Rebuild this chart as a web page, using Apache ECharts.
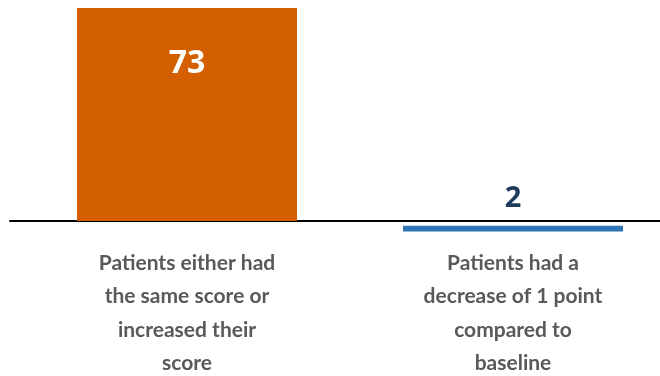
<!DOCTYPE html>
<html>
<head>
<meta charset="utf-8">
<script src="https://cdn.jsdelivr.net/npm/echarts@6/dist/echarts.min.js"></script>
<style>html,body{margin:0;padding:0;background:#fff}#c{width:660px;height:376px}</style>
</head>
<body>
<div id="c"></div>
<script>
const categories = [
  "Patients either had\nthe same score or\nincreased their\nscore",
  "Patients had a\ndecrease of 1 point\ncompared to\nbaseline"
];
const counts = [73, 2];
const belowAxis = [false, true];
const barColors = ["#D35F00", "#2E75B6"];

const chart = echarts.init(document.getElementById('c'), null, {renderer: 'canvas'});
const gapUnits = 1.6;
const offsetData = counts.map((v, i) => belowAxis[i] ? -gapUnits : 0);
const valueData = counts.map((v, i) => ({
  value: belowAxis[i] ? -v : v,
  itemStyle: {color: barColors[i]},
  label: belowAxis[i]
    ? {position: 'top', distance: 12, color: '#1F3B5C', fontSize: 29}
    : {position: 'insideTop', distance: 40, color: '#FFFFFF', fontSize: 32}
}));

chart.setOption({
  animation: false,
  grid: [
    {left: 24, width: 652, top: 8, height: 227.6, outerBoundsMode: 'none', containLabel: false},
    {left: 10, width: 650, top: 8, height: 213, outerBoundsMode: 'none', containLabel: false}
  ],
  xAxis: [
    {type: 'category', gridIndex: 0, data: categories,
     axisLine: {show: false, onZero: false}, axisTick: {show: false},
     axisLabel: {margin: 11, interval: 0, color: '#595959', fontFamily: 'Lato', fontWeight: 'bold', fontSize: 21, lineHeight: 33.3}},
    {type: 'category', gridIndex: 1, data: ['a'],
     axisLine: {show: true, lineStyle: {color: '#000', width: 2}}, axisTick: {show: false}, axisLabel: {show: false}}
  ],
  yAxis: [
    {type: 'value', gridIndex: 0, min: -5, max: 73, show: false, splitLine: {show: false}},
    {type: 'value', gridIndex: 1, show: false, splitLine: {show: false}}
  ],
  series: [
    {type: 'bar', xAxisIndex: 0, yAxisIndex: 0, stack: 's', data: offsetData,
     barWidth: 220, itemStyle: {color: 'transparent'}, silent: true},
    {type: 'bar', xAxisIndex: 0, yAxisIndex: 0, stack: 's', data: valueData,
     barWidth: 220,
     label: {show: true, fontFamily: 'Open Sans', fontWeight: 'bold',
       formatter: p => String(Math.abs(p.value))}}
  ]
});
</script>
</body>
</html>
